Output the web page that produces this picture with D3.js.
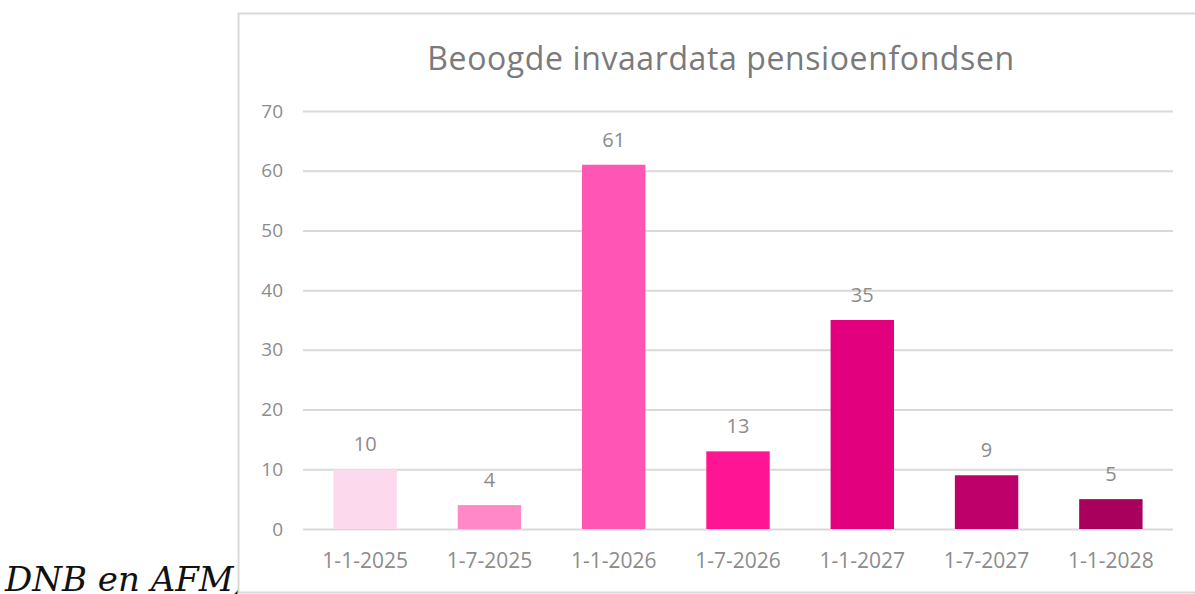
<!DOCTYPE html>
<html>
<head>
<meta charset="utf-8">
<script src="https://cdn.jsdelivr.net/npm/d3@7"></script>
<style>
  body { margin: 0; background: #fff; }
  svg { display: block; }
  text { font-family: "Open Sans", sans-serif; fill: #8c8c8c; }
</style>
</head>
<body>
<svg width="1195" height="594"></svg>
<script>
const categories = ['1-1-2025', '1-7-2025', '1-1-2026', '1-7-2026', '1-1-2027', '1-7-2027', '1-1-2028'];
const values = [10, 4, 61, 13, 35, 9, 5];
const colors = ['#fdd9ee', '#ff88c8', '#ff55b4', '#ff1493', '#e2007e', '#be006a', '#a8005c'];
const yTicks = [0, 10, 20, 30, 40, 50, 60, 70];
const title = 'Beoogde invaardata pensioenfondsen';

const svg = d3.select('svg');

// caption partly hidden behind the chart box
svg.append('text')
    .attr('x', 5)
    .attr('y', 591)
    .style('font-family', '"DejaVu Serif", serif')
    .style('font-style', 'italic')
    .style('font-size', '34px')
    .style('fill', '#111')
    .text('DNB en AFM)');

svg.append('rect')
    .attr('x', 238.5)
    .attr('y', 13.5)
    .attr('width', 1000)
    .attr('height', 579)
    .attr('fill', '#fff')
    .attr('stroke', '#d9d9d9')
    .attr('stroke-width', 2);

const margin = { top: 111, left: 303, right: 22, bottom: 65 };
const innerWidth = 1195 - margin.left - margin.right;
const innerHeight = 594 - margin.top - margin.bottom;

const g = svg.append('g')
    .attr('transform', `translate(${margin.left},${margin.top})`);

const xScale = d3.scaleBand()
    .domain(categories)
    .range([0, innerWidth])
    .paddingInner(0.49)
    .paddingOuter(0.245);

const yScale = d3.scaleLinear()
    .domain([0, 70])
    .range([418, 0]);

const yAxis = d3.axisLeft(yScale)
    .tickValues(yTicks)
    .tickSize(-innerWidth)
    .tickPadding(20);

const yAxisG = g.append('g').call(yAxis);
yAxisG.select('.domain').remove();
yAxisG.selectAll('.tick line').attr('stroke', '#d9d9d9').attr('stroke-width', 2);
yAxisG.selectAll('.tick text')
    .style('font-size', '19px')
    .style('fill', '#8c8c8c');

const xAxis = d3.axisBottom(xScale).tickSize(0).tickPadding(24);
const xAxisG = g.append('g')
    .attr('transform', `translate(0,${yScale(0)})`)
    .call(xAxis);
xAxisG.select('.domain').remove();
xAxisG.selectAll('.tick text')
    .style('font-size', '21px')
    .style('fill', '#8c8c8c');

g.selectAll('.bar')
  .data(values)
  .enter().append('rect')
    .attr('class', 'bar')
    .attr('x', (d, i) => xScale(categories[i]))
    .attr('y', d => yScale(d))
    .attr('width', xScale.bandwidth())
    .attr('height', d => yScale(0) - yScale(d))
    .attr('fill', (d, i) => colors[i]);

g.selectAll('.label')
  .data(values)
  .enter().append('text')
    .attr('class', 'label')
    .attr('x', (d, i) => xScale(categories[i]) + xScale.bandwidth() / 2)
    .attr('y', d => yScale(d) - 18)
    .attr('text-anchor', 'middle')
    .style('font-size', '20px')
    .style('fill', '#8c8c8c')
    .text(d => d);

svg.append('text')
    .attr('x', 721)
    .attr('y', 70)
    .attr('text-anchor', 'middle')
    .style('font-size', '32px')
    .style('fill', '#7a7a7a')
    .style('letter-spacing', '0.6px')
    .text(title);
</script>
</body>
</html>
